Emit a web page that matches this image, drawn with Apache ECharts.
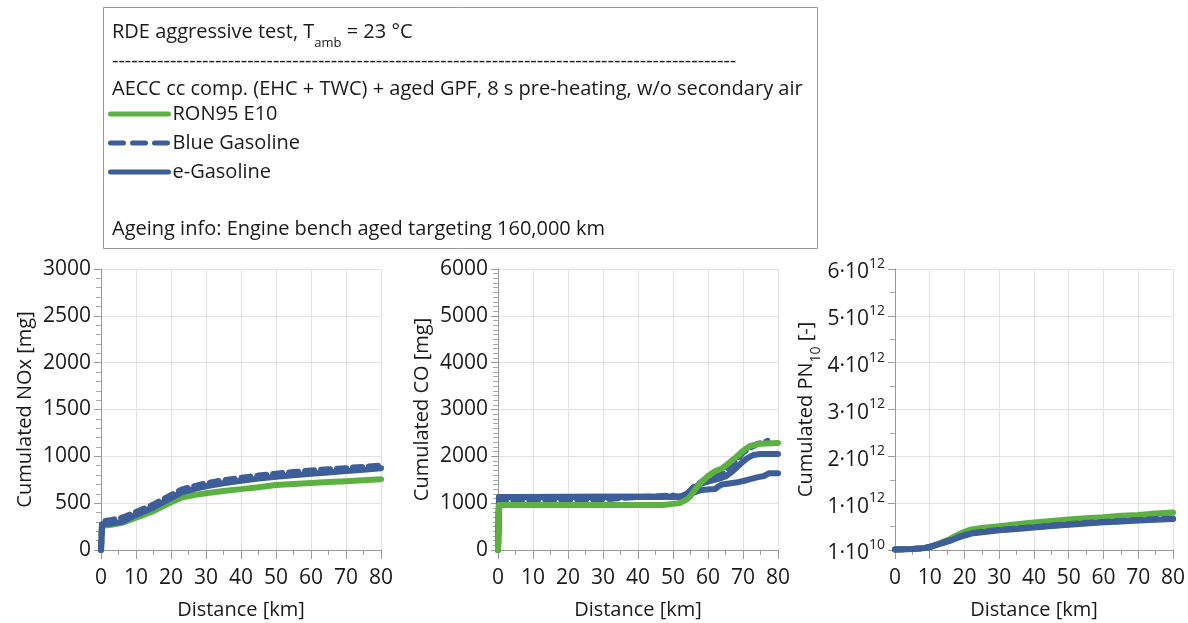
<!DOCTYPE html>
<html><head><meta charset="utf-8">
<script src="https://cdn.jsdelivr.net/npm/echarts@6/dist/echarts.min.js"></script>
<style>html,body{margin:0;padding:0;background:#fff}#c{width:1188px;height:623px}</style>
</head><body><div id="c"></div>
<script>
// ---- data ----
const seriesNames = ['RON95 E10', 'Blue Gasoline', 'e-Gasoline'];
const xTicks = [0, 10, 20, 30, 40, 50, 60, 70, 80];

// NOx [mg]
const noxDist = [0, 0.3, 3, 6, 10, 15, 20, 23, 27, 30, 35, 40, 45, 50, 55, 60, 65, 70, 75, 80];
const noxRon = [0, 260, 270, 290, 345, 415, 510, 560, 590, 605, 630, 650, 670, 695, 705, 715, 725, 735, 745, 755];
const noxBlue = [0, 305, 320, 345, 405, 485, 585, 645, 685, 712, 745, 770, 795, 815, 832, 848, 862, 874, 888, 902];
const noxEgas = [0, 275, 282, 300, 375, 455, 555, 615, 655, 680, 712, 738, 762, 782, 798, 814, 828, 842, 856, 872];

// CO [mg]
const coRonDist = [0, 0.3, 10, 20, 30, 40, 47, 50, 52, 54, 55, 56, 57, 58, 60, 62, 64, 66, 68, 70, 72, 75, 80];
const coRon = [0, 960, 960, 960, 960, 960, 962, 985, 1005, 1080, 1150, 1260, 1360, 1440, 1580, 1680, 1740, 1860, 1980, 2120, 2220, 2270, 2285];
const coBlueDist = [0, 0.3, 10, 20, 30, 35, 40, 45, 48, 50, 52, 54, 56, 58, 60, 62, 64, 66, 68, 70, 72, 74, 77];
const coBlue = [0, 1065, 1070, 1075, 1080, 1110, 1130, 1140, 1160, 1160, 1120, 1200, 1350, 1450, 1500, 1570, 1640, 1780, 1900, 2080, 2180, 2260, 2330];
const coEgasDist = [0, 0.3, 10, 30, 50, 52, 54, 56, 58, 60, 63, 65, 67, 69, 71, 73, 75, 80];
const coEgas = [0, 1130, 1130, 1135, 1135, 1140, 1200, 1330, 1420, 1460, 1520, 1570, 1680, 1820, 1950, 2030, 2050, 2050];
const coEgas2Dist = [0, 0.3, 30, 50, 52, 54, 56, 58, 62, 63, 64, 68, 71, 74, 76, 77.5, 80];
const coEgas2 = [0, 1130, 1135, 1135, 1140, 1180, 1230, 1280, 1300, 1360, 1400, 1440, 1490, 1550, 1580, 1640, 1640];

// PN10 [-] (x 1e12)
const pnDist = [0, 5, 8, 10, 13, 16, 18, 20, 22, 25, 30, 35, 40, 45, 50, 55, 60, 65, 70, 75, 80];
const pnRon = [0.01, 0.02, 0.04, 0.07, 0.15, 0.24, 0.32, 0.39, 0.44, 0.47, 0.51, 0.55, 0.59, 0.62, 0.65, 0.68, 0.70, 0.73, 0.75, 0.78, 0.80];
const pnBlue = [0.01, 0.02, 0.035, 0.065, 0.14, 0.21, 0.27, 0.32, 0.36, 0.39, 0.43, 0.46, 0.49, 0.52, 0.55, 0.58, 0.60, 0.62, 0.64, 0.66, 0.675];
const pnEgas = [0.01, 0.02, 0.035, 0.06, 0.13, 0.20, 0.26, 0.31, 0.35, 0.38, 0.42, 0.45, 0.48, 0.51, 0.54, 0.565, 0.59, 0.61, 0.63, 0.645, 0.66];

// ---- styling ----
const GREEN = '#5DB142', BLUE = '#3D5E98', TXT = '#1a1a1a', FONT = 'Open Sans';
const pairs = (xs, ys, k) => xs.map((x, i) => [x, ys[i] * (k || 1)]);

function mkLine(name, data, idx, color, dashed) {
  return {
    type: 'line', name, xAxisIndex: idx, yAxisIndex: idx, data,
    symbol: 'none', smooth: false, animation: false,
    lineStyle: { color, width: 6, type: dashed ? [9, 7] : 'solid', cap: 'round', join: 'round' },
    itemStyle: { color }
  };
}

const lefts = [101, 498, 895];
const grids = lefts.map(l => ({ left: l, top: 269, width: 280, height: 281 }));

const xAxes = lefts.map((l, i) => ({
  type: 'value', gridIndex: i, min: 0, max: 80, interval: 10,
  name: 'Distance [km]', nameLocation: 'middle', nameGap: 50,
  nameTextStyle: { fontFamily: FONT, fontSize: 20, color: TXT },
  axisLine: { show: true, lineStyle: { color: '#9a9a9a', width: 1 } },
  axisTick: { show: true, inside: false, length: 9, lineStyle: { color: '#9a9a9a' } },
  minorTick: { show: true, splitNumber: 2, length: 5, lineStyle: { color: '#9a9a9a' } },
  axisLabel: { fontFamily: FONT, fontSize: 21, color: TXT, margin: 18,
    formatter: v => xTicks.includes(v) ? String(v) : '' },
  splitLine: { show: true, lineStyle: { color: '#e2e2e2', width: 1 } }
}));

function yAxis(i, max, interval, minorSplit, name, fmt, labelRich, nameRich, nameGap) {
  return {
    type: 'value', gridIndex: i, min: 0, max, interval,
    name, nameLocation: 'middle', nameGap,
    nameTextStyle: { fontFamily: FONT, fontSize: 20, color: TXT, rich: nameRich },
    axisLine: { show: true, lineStyle: { color: '#9a9a9a', width: 1 } },
    axisTick: { show: true, inside: false, length: 7, lineStyle: { color: '#9a9a9a' } },
    minorTick: { show: true, splitNumber: minorSplit, length: 5, lineStyle: { color: '#a8a8a8' } },
    axisLabel: { fontFamily: FONT, fontSize: 21, color: TXT, margin: 10, formatter: fmt, rich: labelRich },
    splitLine: { show: true, lineStyle: { color: '#e2e2e2', width: 1 } }
  };
}

const supRich = {
  a: { fontFamily: FONT, fontSize: 21, color: TXT, lineHeight: 28, verticalAlign: 'bottom' },
  s: { fontFamily: FONT, fontSize: 14, color: TXT, lineHeight: 28, verticalAlign: 'top', padding: [2, 0, 0, 0] }
};
const pnFmt = v => {
  if (v === 0) return '{a|1·10}{s|10}';
  return '{a|' + Math.round(v / 1e12) + '·10}{s|12}';
};
const subRich = {
  n: { fontFamily: FONT, fontSize: 20, color: TXT, lineHeight: 26 },
  b: { fontFamily: FONT, fontSize: 14, color: TXT, lineHeight: 26, verticalAlign: 'bottom', padding: [0, 0, -4, 0] }
};

const yAxes = [
  yAxis(0, 3000, 500, 5, 'Cumulated NOx [mg]', v => String(v), undefined, undefined, 66),
  yAxis(1, 6000, 1000, 10, 'Cumulated CO [mg]', v => String(v), undefined, undefined, 66),
  yAxis(2, 6e12, 1e12, 2, '{n|Cumulated PN}{b|10}{n| [-]}', pnFmt, supRich, subRich, 76)
];

const series = [
  mkLine(seriesNames[0], pairs(noxDist, noxRon), 0, GREEN, false),
  mkLine(seriesNames[2], pairs(noxDist, noxEgas), 0, BLUE, false),
  mkLine(seriesNames[1], pairs(noxDist, noxBlue), 0, BLUE, true),

  mkLine(seriesNames[2], pairs(coEgasDist, coEgas), 1, BLUE, false),
  mkLine(seriesNames[2], pairs(coEgas2Dist, coEgas2), 1, BLUE, false),
  mkLine(seriesNames[1], pairs(coBlueDist, coBlue), 1, BLUE, true),
  mkLine(seriesNames[0], pairs(coRonDist, coRon), 1, GREEN, false),

  mkLine(seriesNames[0], pairs(pnDist, pnRon, 1e12), 2, GREEN, false),
  mkLine(seriesNames[2], pairs(pnDist, pnEgas, 1e12), 2, BLUE, false),
  mkLine(seriesNames[1], pairs(pnDist, pnBlue, 1e12), 2, BLUE, true)
];

const boxFont = { fontFamily: FONT, fontSize: 20, fill: TXT };
const boxText = (y, text, rich) => ({
  type: 'text', left: 112, top: y, silent: true,
  style: Object.assign({ text, rich }, boxFont)
});

const option = {
  backgroundColor: '#fff',
  animation: false,
  grid: grids,
  xAxis: xAxes,
  yAxis: yAxes,
  series,
  legend: {
    data: [
      { name: seriesNames[0] },
      { name: seriesNames[1], lineStyle: { type: [13, 9], width: 5, cap: 'round' } },
      { name: seriesNames[2] }
    ],
    orient: 'vertical', left: 103, top: 99,
    itemWidth: 58, itemHeight: 20, itemGap: 9,
    lineStyle: { width: 5, cap: 'round' },
    itemStyle: { opacity: 0, borderWidth: 0 },
    textStyle: { fontFamily: FONT, fontSize: 20, color: TXT, padding: [0, 0, 0, -1] },
    selectedMode: false
  },
  graphic: [
    { type: 'rect', left: 101, top: 5, silent: true,
      shape: { width: 714, height: 241 },
      style: { fill: 'none', stroke: '#9a9a9a', lineWidth: 1 } },
    boxText(22, '{n|RDE aggressive test, T}{b|amb}{n| = 23 °C}', {
      n: { fontFamily: FONT, fontSize: 20, fill: TXT, lineHeight: 28 },
      b: { fontFamily: FONT, fontSize: 13, fill: TXT, lineHeight: 28, verticalAlign: 'bottom', padding: [0, 0, -4, 0] }
    }),
    boxText(51, '-'.repeat(97)),
    boxText(79, 'AECC cc comp. (EHC + TWC) + aged GPF, 8 s pre-heating, w/o secondary air'),
    boxText(219, 'Ageing info: Engine bench aged targeting 160,000 km')
  ]
};

const chart = echarts.init(document.getElementById('c'), null, { renderer: 'canvas' });
chart.setOption(option);
</script>
</body></html>
